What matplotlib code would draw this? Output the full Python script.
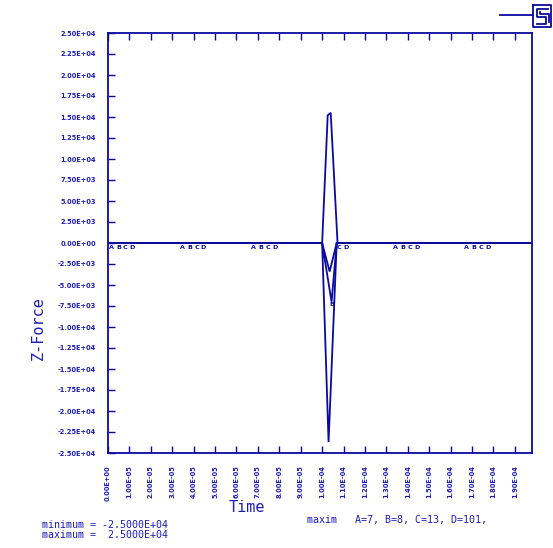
import numpy as np
import matplotlib
matplotlib.use("Agg")
import matplotlib.pyplot as plt
from matplotlib.lines import Line2D

# ---- data ----
t_A = [0.0, 1.000e-4, 1.035e-4, 1.068e-4, 1.98e-4]
v_A = [0.0, 0.0, -3400.0, 0.0, 0.0]
t_B = [0.0, 1.000e-4, 1.044e-4, 1.068e-4, 1.98e-4]
v_B = [0.0, 0.0, -7000.0, 0.0, 0.0]
t_C = [0.0, 1.000e-4, 1.026e-4, 1.040e-4, 1.072e-4, 1.98e-4]
v_C = [0.0, 0.0, 15200.0, 15500.0, 0.0, 0.0]
t_D = [0.0, 1.000e-4, 1.030e-4, 1.068e-4, 1.98e-4]
v_D = [0.0, 0.0, -23700.0, 0.0, 0.0]
curve_names = ["A", "B", "C", "D"]

x_ticks = [i * 1e-5 for i in range(20)]
x_labels = ["0.00E+00", "1.00E-05", "2.00E-05", "3.00E-05", "4.00E-05",
            "5.00E-05", "6.00E-05", "7.00E-05", "8.00E-05", "9.00E-05",
            "1.00E-04", "1.10E-04", "1.20E-04", "1.30E-04", "1.40E-04",
            "1.50E-04", "1.60E-04", "1.70E-04", "1.80E-04", "1.90E-04"]
y_ticks = [2500.0 * i for i in range(-10, 11)]
y_labels = ["-2.50E+04", "-2.25E+04", "-2.00E+04", "-1.75E+04", "-1.50E+04",
            "-1.25E+04", "-1.00E+04", "-7.50E+03", "-5.00E+03", "-2.50E+03",
            "0.00E+00", "2.50E+03", "5.00E+03", "7.50E+03", "1.00E+04",
            "1.25E+04", "1.50E+04", "1.75E+04", "2.00E+04", "2.25E+04",
            "2.50E+04"]
label_times = [0.16e-5 + k * 3.32e-5 for k in range(6)]
label_step = 0.327e-5

LINE = "#0a0aa0"
TEXT = "#1c1cb8"

W, H = 553, 548
fig = plt.figure(figsize=(W / 100, H / 100), dpi=100)
ax = fig.add_axes([108 / W, 1 - 453 / H, (532 - 108) / W, (453 - 33) / H])

series = [(t_A, v_A), (t_B, v_B), (t_C, v_C), (t_D, v_D)]
for (tt, vv) in series:
    ax.plot(tt, vv, color=LINE, lw=1.3, solid_joinstyle="miter")

for k, t0 in enumerate(label_times):
    for i, (name, (tt, vv)) in enumerate(zip(curve_names, series)):
        tx = t0 + i * label_step
        if tx > 1.98e-4:
            continue
        ty = np.interp(tx, tt, vv)
        ax.text(tx, ty - 250, name, color=LINE, fontsize=4.6, fontweight="bold",
                ha="center", va="top", family="DejaVu Sans")

ax.set_xlim(0, 1.98e-4)
ax.set_ylim(-25000, 25000)
ax.set_xticks(x_ticks)
ax.set_xticklabels(x_labels, rotation=90, fontsize=4.8, fontweight="bold",
                   color=TEXT, family="DejaVu Sans")
ax.set_yticks(y_ticks)
ax.set_yticklabels(y_labels, fontsize=4.8, fontweight="bold", color=TEXT,
                   family="DejaVu Sans")
ax.tick_params(axis="both", direction="in", length=5, width=1.0, color=LINE)
ax.tick_params(axis="x", pad=9, top=True)
ax.tick_params(axis="y", pad=8.5, right=False)
for lab in ax.get_xticklabels():
    lab.set_va("top")
for sp in ax.spines.values():
    sp.set_color(LINE)
    sp.set_linewidth(1.3)

fig.text(38 / W, 1 - 328 / H, "Z-Force", rotation=90, ha="center", va="center",
         fontsize=11, color=TEXT, family="DejaVu Sans Mono")
fig.text(247 / W, 1 - 508 / H, "Time", ha="center", va="center",
         fontsize=11, color=TEXT, family="DejaVu Sans Mono")
fig.text(42 / W, 1 - 525 / H, "minimum = -2.5000E+04", ha="left", va="center",
         fontsize=7.2, color=TEXT, family="DejaVu Sans Mono")
fig.text(42 / W, 1 - 535 / H, "maximum =  2.5000E+04", ha="left", va="center",
         fontsize=7.2, color=TEXT, family="DejaVu Sans Mono")
fig.text(307 / W, 1 - 520 / H, "maxim   A=7, B=8, C=13, D=101,", ha="left",
         va="center", fontsize=7.2, color=TEXT, family="DejaVu Sans Mono")

# logo in the top-right corner
def fl(xs, ys, lw=1.3):
    fig.add_artist(Line2D([x / W for x in xs], [1 - y / H for y in ys],
                          color=LINE, lw=lw, transform=fig.transFigure))

fl([533, 551, 551, 533, 533], [5, 5, 27, 27, 5])
fl([548, 537, 537, 546, 546, 537], [9, 9, 17, 17, 24, 24])
fl([540, 540, 549, 549], [12, 14, 14, 22])
fl([500, 533], [15, 15])

fig.savefig("out.png", dpi=100)
